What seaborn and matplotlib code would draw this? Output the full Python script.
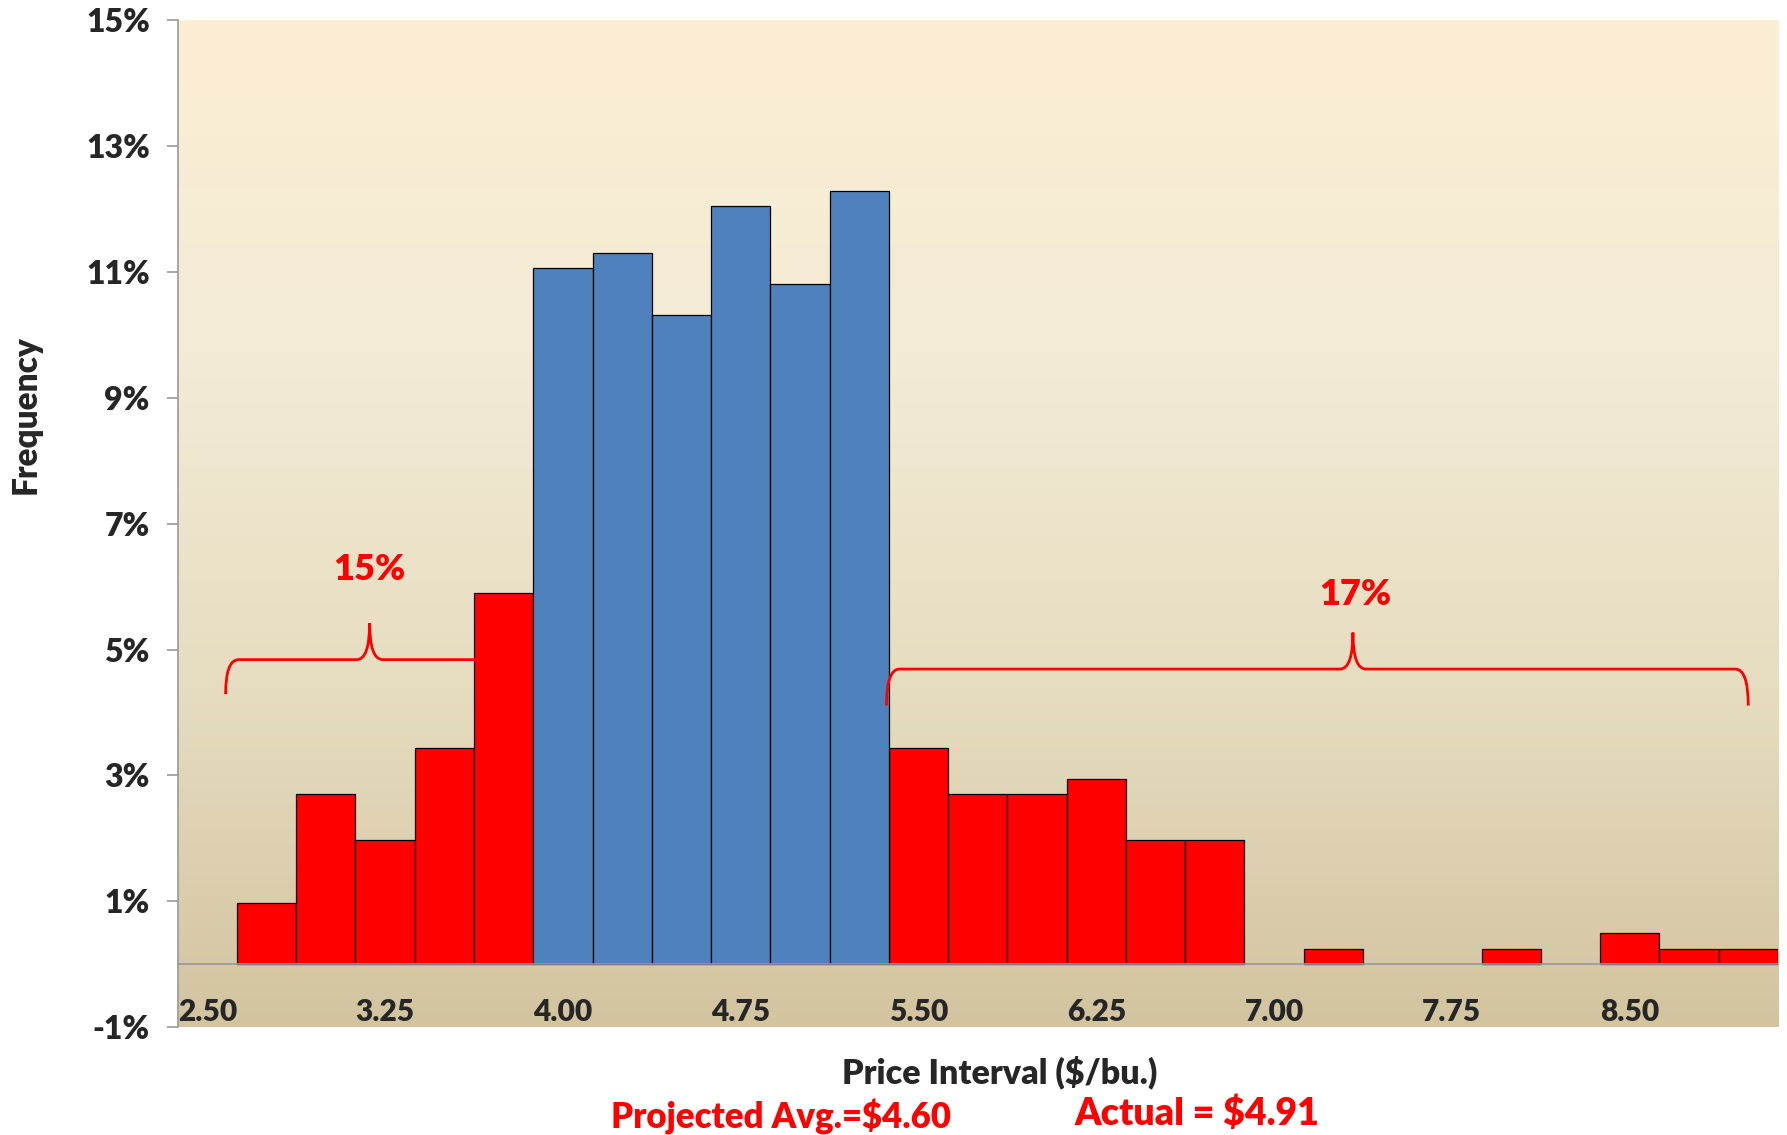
import numpy as np
import pandas as pd
import seaborn as sns
import matplotlib.pyplot as plt
from matplotlib.path import Path
from matplotlib.patches import PathPatch
from matplotlib.colors import LinearSegmentedColormap

# price intervals ($/bu.), one per bar slot
prices = ["2.50", "2.75", "3.00", "3.25", "3.50", "3.75", "4.00", "4.25", "4.50",
          "4.75", "5.00", "5.25", "5.50", "5.75", "6.00", "6.25", "6.50", "6.75",
          "7.00", "7.25", "7.50", "7.75", "8.00", "8.25", "8.50", "8.75", "9.00"]
# frequency in percent
freq = [0.00, 0.98, 2.70, 1.97, 3.44, 5.90, 11.06, 11.30, 10.32,
        12.04, 10.81, 12.29, 3.44, 2.70, 2.70, 2.95, 1.97, 1.97,
        0.00, 0.25, 0.00, 0.00, 0.25, 0.00, 0.49, 0.25, 0.25]
# tail / core grouping
zone = ["tail"] * 6 + ["core"] * 6 + ["tail"] * 15
shown_labels = ["2.50", "3.25", "4.00", "4.75", "5.50", "6.25", "7.00", "7.75", "8.50"]

df = pd.DataFrame({"price": prices, "freq": freq, "zone": zone})

sns.set_theme(style="white")
plt.rcParams['font.family'] = ['Lato', 'DejaVu Sans']
W = "heavy"

fig = plt.figure(figsize=(17.87, 11.35), dpi=100)
ax = fig.add_axes([0.0994, 0.095, 0.8955, 0.8872])

# background gradient
cmap = LinearSegmentedColormap.from_list("bg", ["#D3C4A0", "#E6DCC0", "#F3EBD5", "#FCEED3"])
grad = np.linspace(0, 1, 256).reshape(-1, 1)
ax.imshow(grad, cmap=cmap, origin="lower", aspect="auto",
          extent=[-0.5, len(prices) - 0.5, -1, 15], zorder=0)

sns.barplot(data=df, x="price", y="freq", hue="zone", order=prices,
            palette={"tail": "#FF0000", "core": "#4F81BD"}, dodge=False, saturation=1,
            width=1.0, edgecolor="black", linewidth=0.9, legend=False, ax=ax, zorder=2)
for p in ax.patches:
    if p.get_height() == 0:
        p.set_linewidth(0)

ax.set_xlim(-0.5, len(prices) - 0.5)
ax.set_ylim(-1, 15)

# x axis sits on zero
ax.spines['bottom'].set_position(('data', 0))
ax.spines['bottom'].set_color("#999999")
ax.spines['bottom'].set_linewidth(1.2)
ax.spines['bottom'].set_zorder(3)
ax.spines['left'].set_color("#999999")
ax.spines['left'].set_linewidth(1.2)
ax.spines['top'].set_visible(False)
ax.spines['right'].set_visible(False)

ax.set_xticks([prices.index(s) for s in shown_labels])
ax.set_xticklabels(shown_labels)
ax.set_xticks(np.arange(-0.5, len(prices)), minor=True)
ax.tick_params(axis="x", which="major", length=0, pad=24, labelsize=21.5)
ax.tick_params(axis="x", which="minor", length=9, width=1.2, color="#999999", direction="out")
for t in ax.get_xticklabels():
    t.set_fontweight(W)

ax.set_yticks(np.arange(-1, 16, 2))
ax.set_yticklabels([f"{v}%" for v in range(-1, 16, 2)])
ax.tick_params(axis="y", length=8, width=1.2, color="#999999", direction="out",
               left=True, labelsize=23, pad=12)
for t in ax.get_yticklabels():
    t.set_fontweight(W)

ax.set_xlabel("")
ax.set_ylabel("")


def brace(x0, x1, xc, yh, yb, yt, dx=0.22):
    verts = [(x0, yb), (x0, yh), (x0 + dx, yh), (xc - dx, yh), (xc, yh), (xc, yt),
             (xc, yh), (xc + dx, yh), (x1 - dx, yh), (x1, yh), (x1, yb)]
    codes = [Path.MOVETO, Path.CURVE3, Path.CURVE3, Path.LINETO, Path.CURVE3, Path.CURVE3,
             Path.CURVE3, Path.CURVE3, Path.LINETO, Path.CURVE3, Path.CURVE3]
    ax.add_patch(PathPatch(Path(verts, codes), facecolor="none", edgecolor="#FF0000",
                           linewidth=2, zorder=4))


brace(0.31, 5.3, 2.74, 4.84, 4.29, 5.42)
brace(11.46, 26.0, 19.33, 4.69, 4.11, 5.27)

ax.text(2.74, 6.27, "15%", color="#FF0000", fontsize=26, fontweight=W,
        ha="center", va="center", zorder=5)
ax.text(19.37, 5.87, "17%", color="#FF0000", fontsize=26, fontweight=W,
        ha="center", va="center", zorder=5)

fig.text(0.0141, 0.635, "Frequency", rotation=90, ha="center", va="center",
         fontsize=24, fontweight=W)
fig.text(0.5596, 0.0555, "Price Interval ($/bu.)", ha="center", va="center",
         fontsize=24.5, fontweight=W)
fig.text(0.437, 0.016, "Projected Avg.=$4.60", ha="center", va="center",
         fontsize=25, fontweight=W, color="#FF0000")
fig.text(0.67, 0.019, "Actual = $4.91", ha="center", va="center",
         fontsize=27, fontweight=W, color="#FF0000")

fig.savefig("out.png", dpi=100)
